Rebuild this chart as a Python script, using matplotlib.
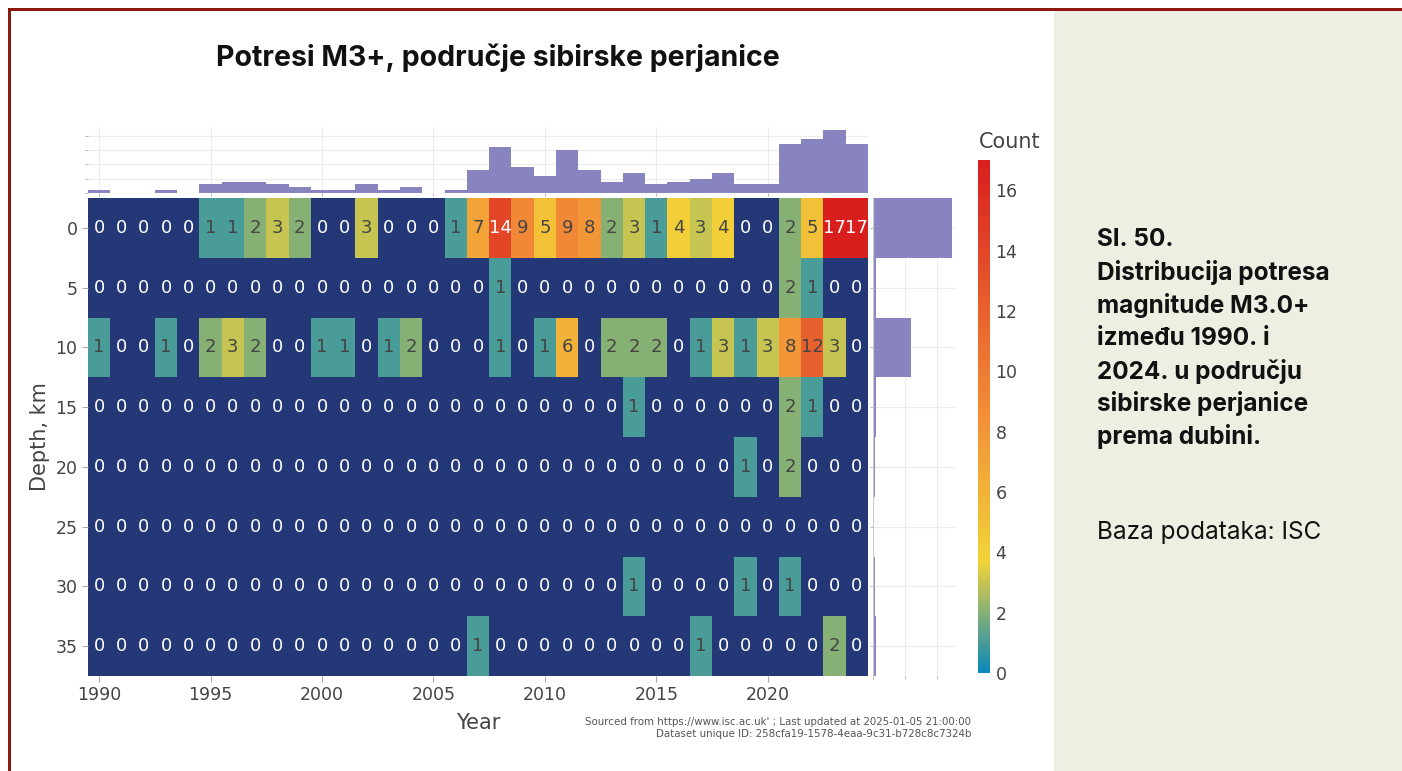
import numpy as np
import matplotlib
matplotlib.use("Agg")
import matplotlib.pyplot as plt
from matplotlib.colors import LinearSegmentedColormap
from matplotlib.patches import Rectangle

# Earthquake counts (M3+) per year and depth bin
years = list(range(1990, 2025))
depths = [0, 5, 10, 15, 20, 25, 30, 35]

depth_0 = [0, 0, 0, 0, 0, 1, 1, 2, 3, 2, 0, 0, 3, 0, 0, 0, 1, 7, 14, 9,
           5, 9, 8, 2, 3, 1, 4, 3, 4, 0, 0, 2, 5, 17, 17]
depth_5 = [0, 0, 0, 0, 0, 0, 0, 0, 0, 0, 0, 0, 0, 0, 0, 0, 0, 0, 1, 0,
           0, 0, 0, 0, 0, 0, 0, 0, 0, 0, 0, 2, 1, 0, 0]
depth_10 = [1, 0, 0, 1, 0, 2, 3, 2, 0, 0, 1, 1, 0, 1, 2, 0, 0, 0, 1, 0,
            1, 6, 0, 2, 2, 2, 0, 1, 3, 1, 3, 8, 12, 3, 0]
depth_15 = [0, 0, 0, 0, 0, 0, 0, 0, 0, 0, 0, 0, 0, 0, 0, 0, 0, 0, 0, 0,
            0, 0, 0, 0, 1, 0, 0, 0, 0, 0, 0, 2, 1, 0, 0]
depth_20 = [0, 0, 0, 0, 0, 0, 0, 0, 0, 0, 0, 0, 0, 0, 0, 0, 0, 0, 0, 0,
            0, 0, 0, 0, 0, 0, 0, 0, 0, 1, 0, 2, 0, 0, 0]
depth_25 = [0] * 35
depth_30 = [0, 0, 0, 0, 0, 0, 0, 0, 0, 0, 0, 0, 0, 0, 0, 0, 0, 0, 0, 0,
            0, 0, 0, 0, 1, 0, 0, 0, 0, 1, 0, 1, 0, 0, 0]
depth_35 = [0, 0, 0, 0, 0, 0, 0, 0, 0, 0, 0, 0, 0, 0, 0, 0, 0, 1, 0, 0,
            0, 0, 0, 0, 0, 0, 0, 1, 0, 0, 0, 0, 0, 2, 0]

year_ticks = [1990, 1995, 2000, 2005, 2010, 2015, 2020]

counts = np.array([depth_0, depth_5, depth_10, depth_15,
                   depth_20, depth_25, depth_30, depth_35], dtype=float)
per_year = counts.sum(axis=0)
per_depth = counts.sum(axis=1)

W, H = 1402, 771
fig = plt.figure(figsize=(W / 100, H / 100), dpi=100)
fig.patch.set_facecolor("white")

def fx(px):
    return px / W

def fy(py):
    return 1 - py / H

# page frame and side panel
fig.add_artist(Rectangle((fx(1054), 0), fx(1402 - 1054), fy(11), transform=fig.transFigure,
                         facecolor="#efeee3", edgecolor="none", zorder=0))
fig.add_artist(Rectangle((fx(8), fy(11)), fx(1402 - 8), 3 / H, transform=fig.transFigure,
                         facecolor="#8c1a10", edgecolor="none", zorder=1))
fig.add_artist(Rectangle((fx(8), 0), 3 / W, fy(8), transform=fig.transFigure,
                         facecolor="#8c1a10", edgecolor="none", zorder=1))

cmap = LinearSegmentedColormap.from_list(
    "count_scale",
    [(0.0, (10 / 255, 136 / 255, 186 / 255)),
     (3.7 / 17, (242 / 255, 211 / 255, 56 / 255)),
     (8.5 / 17, (242 / 255, 143 / 255, 56 / 255)),
     (1.0, (217 / 255, 30 / 255, 30 / 255))])

navy = "#243878"
grid_c = "#ececec"
text_c = "#444444"
hist_c = "#8884c0"

# heatmap
ax = fig.add_axes([fx(88), fy(676), fx(868 - 88), (676 - 198) / H])
ax.set_facecolor(navy)
masked = np.ma.masked_where(counts == 0, counts)
xe = np.arange(len(years) + 1) + years[0] - 0.5
ye = np.arange(len(depths) + 1) * 5 - 2.5
mesh = ax.pcolormesh(xe, ye, masked, cmap=cmap, vmin=0, vmax=17)
ax.set_xlim(xe[0], xe[-1])
ax.set_ylim(ye[-1], ye[0])
for i, d in enumerate(depths):
    for j, yr in enumerate(years):
        v = int(counts[i, j])
        col = "white" if (v == 0 or v >= 14) else text_c
        ax.text(yr, d, str(v), ha="center", va="center", fontsize=13,
                color=col, family="DejaVu Sans")
ax.set_xticks(year_ticks)
ax.set_yticks(depths)
ax.tick_params(axis="both", colors="#aaaaaa", labelcolor=text_c, labelsize=12.5,
               length=4, width=0.8)
for s in ax.spines.values():
    s.set_visible(False)
ax.set_xlabel("Year", fontsize=15, color=text_c, labelpad=6)
ax.set_ylabel("Depth, km", fontsize=15, color=text_c, labelpad=4)

# yearly totals on top
axt = fig.add_axes([fx(88), fy(193), fx(868 - 88), (193 - 127) / H], sharex=ax)
axt.bar(years, per_year, width=1.0, color=hist_c, edgecolor="none", zorder=2)
axt.set_ylim(0, per_year.max() * 1.05)
axt.set_yticks([0, 5, 10, 15, 20])
axt.set_xticks(year_ticks)
axt.grid(True, color=grid_c, linewidth=0.8, zorder=0)
axt.tick_params(axis="both", labelleft=False, labelbottom=False, colors="#aaaaaa",
                length=2, width=0.6)
for s in axt.spines.values():
    s.set_visible(False)
axt.axhline(0, color="#cccccc", linewidth=0.8, zorder=3)

# depth totals on the right
axr = fig.add_axes([fx(873), fy(676), fx(956 - 873), (676 - 198) / H])
axr.barh(depths, per_depth, height=5.0, color=hist_c, edgecolor="none", zorder=2)
axr.set_ylim(ye[-1], ye[0])
axr.set_xlim(0, per_depth.max() * 1.05)
axr.set_xticks([0, 50, 100])
axr.set_yticks(depths)
axr.grid(True, color=grid_c, linewidth=0.8, zorder=0)
axr.tick_params(axis="both", labelleft=False, labelbottom=False, colors="#aaaaaa",
                length=2, width=0.6)
for s in axr.spines.values():
    s.set_visible(False)
axr.axvline(0, color="#cccccc", linewidth=0.8, zorder=3)

# colour bar
cax = fig.add_axes([fx(978), fy(673), fx(12), (673 - 160) / H])
cb = fig.colorbar(mesh, cax=cax)
cb.set_ticks(list(range(0, 17, 2)))
cb.outline.set_visible(False)
cax.tick_params(labelsize=12.5, labelcolor=text_c, length=0, pad=4)
fig.text(fx(1010), fy(142), "Count", fontsize=15, color=text_c, ha="center", va="center")

# title
fig.text(fx(498), fy(58), "Potresi M3+, područje sibirske perjanice", fontsize=20.5,
         fontweight="bold", ha="center", va="center", family="Inter", color="#111111")

# source note
fig.text(fx(971), fy(722), "Sourced from https://www.isc.ac.uk' ; Last updated at 2025-01-05 21:00:00",
         fontsize=7.4, color="#555555", ha="right", va="center")
fig.text(fx(971), fy(734), "Dataset unique ID: 258cfa19-1578-4eaa-9c31-b728c8c7324b",
         fontsize=7.4, color="#555555", ha="right", va="center")

# caption panel
caption = ["Sl. 50.", "Distribucija potresa", "magnitude M3.0+", "između 1990. i",
           "2024. u području", "sibirske perjanice", "prema dubini."]
for k, line in enumerate(caption):
    fig.text(fx(1097), fy(240 + k * 32.8), line, fontsize=17.5, fontweight="bold",
             family="Inter", color="#111111", ha="left", va="center")
fig.text(fx(1097), fy(532), "Baza podataka: ISC", fontsize=17.5, family="Inter",
         color="#111111", ha="left", va="center")

fig.savefig("out.png", dpi=100)
